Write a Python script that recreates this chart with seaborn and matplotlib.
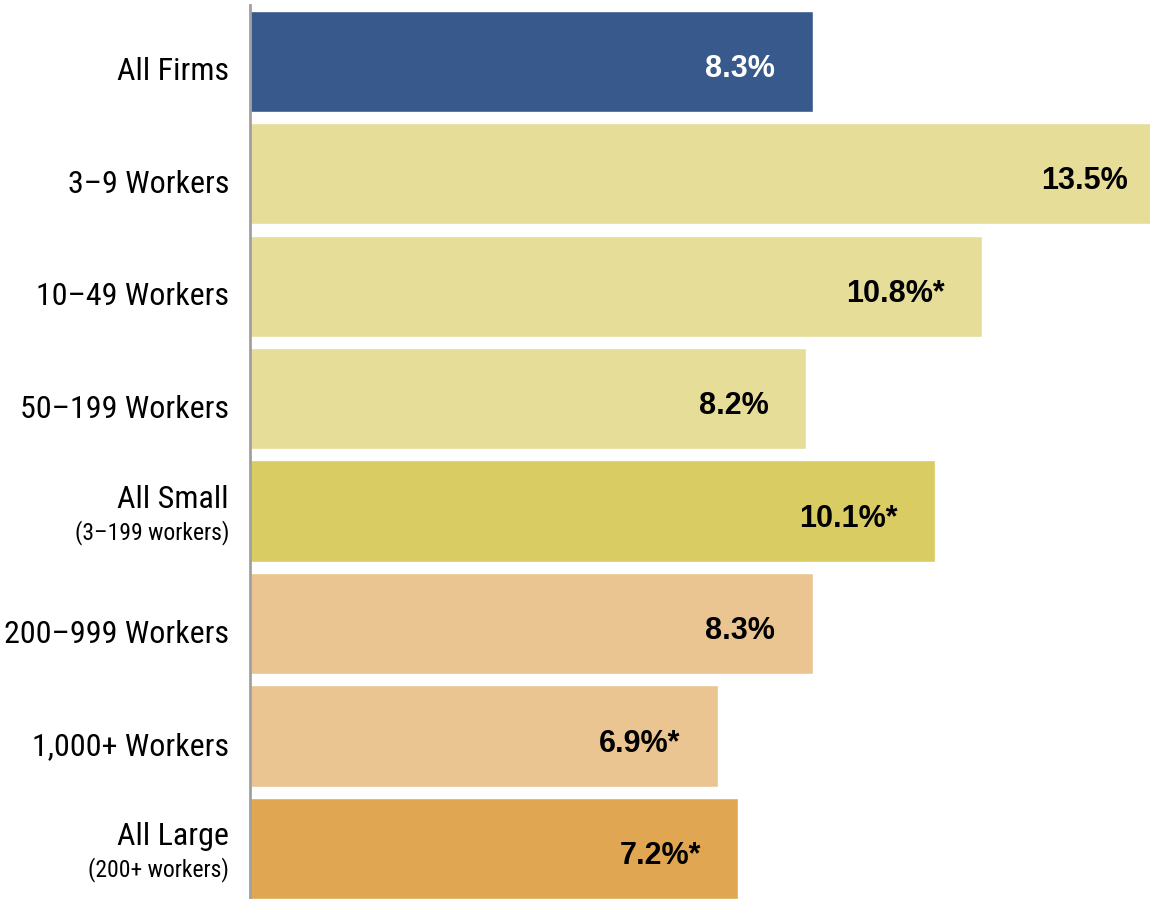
import pandas as pd
import numpy as np
import matplotlib
matplotlib.use('Agg')
import matplotlib.pyplot as plt
import matplotlib.transforms as mtransforms
from matplotlib import font_manager
import seaborn as sns

# ---数据---
categories = ['All Firms', '3–9 Workers', '10–49 Workers', '50–199 Workers',
              'All Small', '200–999 Workers', '1,000+ Workers', 'All Large']
sub_labels = ['', '', '', '', '(3–199 workers)', '', '', '(200+ workers)']
values = [8.3, 13.5, 10.8, 8.2, 10.1, 8.3, 6.9, 7.2]
significant = [False, False, True, False, True, False, True, True]
bar_colors = ['#38598B', '#E6DD98', '#E6DD98', '#E6DD98',
              '#D9CC62', '#EAC591', '#EAC591', '#E1A651']
text_colors = ['white', 'black', 'black', 'black', 'black', 'black', 'black', 'black']

df = pd.DataFrame({'category': categories, 'value': values})

sns.set_theme(style='white')
print([f.name for f in font_manager.fontManager.ttflist if 'Roboto' in f.name or 'Narrow' in f.name or 'Condensed' in f.name])
label_font = ['Roboto Condensed', 'Roboto', 'DejaVu Sans']
value_font = ['Liberation Sans', 'DejaVu Sans']

fig = plt.figure(figsize=(11.5, 8.99), dpi=100)
ax = fig.add_axes([250 / 1150, 0, 1 - 250 / 1150, 1 - 5 / 899])

sns.barplot(data=df, x='value', y='category', hue='category',
            palette=dict(zip(categories, bar_colors)), orient='h',
            width=0.9, legend=False, saturation=1, ax=ax)

ax.set_xlim(0, 900 / 67.8)
ax.set_ylim(7.45, -0.5)
ax.set_xlabel('')
ax.set_ylabel('')
ax.set_xticks([])
ax.set_yticks([])
for s in ['top', 'right', 'bottom']:
    ax.spines[s].set_visible(False)
ax.spines['left'].set_color('#A0A0A0')
ax.spines['left'].set_linewidth(2)

# 类别标签（手动放置，支持两行）
trans = mtransforms.blended_transform_factory(ax.transAxes, ax.transData)
for i, (cat, sub) in enumerate(zip(categories, sub_labels)):
    x_txt = -21 / 900
    if sub:
        ax.text(x_txt, i - 0.03, cat, transform=trans, ha='right', va='baseline',
                fontsize=23, family=label_font, color='black')
        ax.text(x_txt, i + 0.25, sub, transform=trans, ha='right', va='baseline',
                fontsize=17, family=label_font, color='black')
    else:
        ax.text(x_txt, i + 0.17, cat, transform=trans, ha='right', va='baseline',
                fontsize=23, family=label_font, color='black')

# 数值标签
for i, (v, sig, tc) in enumerate(zip(values, significant, text_colors)):
    txt = f'{v:.1f}%' + ('*' if sig else '')
    ax.annotate(txt, xy=(v, i + 0.14), xytext=(-27, 0), textcoords='offset points',
                ha='right', va='baseline', fontsize=22, fontweight='bold',
                family=value_font, color=tc, annotation_clip=False)

plt.savefig('out.png', dpi=100)
plt.close()
